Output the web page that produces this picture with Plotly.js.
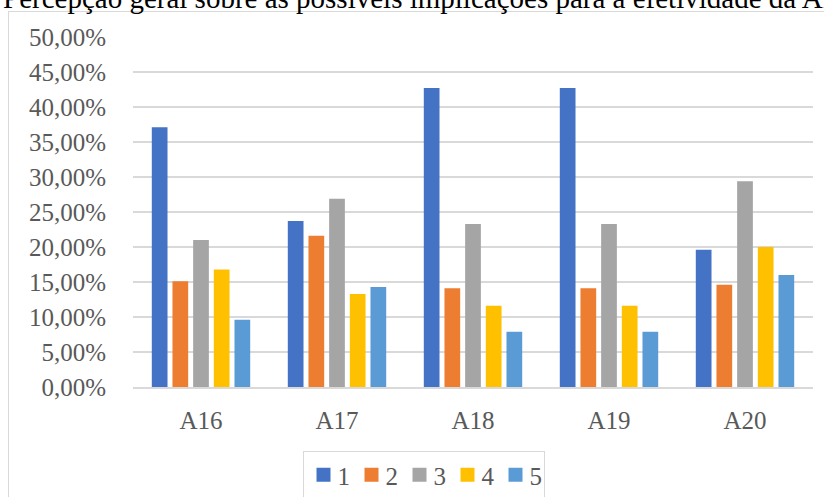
<!DOCTYPE html>
<html>
<head>
<meta charset="utf-8">
<script src="https://cdn.plot.ly/plotly-3.0.1.min.js"></script>
<style>
  html, body { margin: 0; padding: 0; background: #ffffff; overflow: hidden; }
  #frame { position: absolute; left: 8px; top: 11px; width: 900px; height: 600px;
           border: 1px solid #d9d9d9; box-sizing: border-box; }
  #chart { position: absolute; left: 0; top: 0; width: 824px; height: 497px; }
</style>
</head>
<body>
<div id="frame"></div>
<div id="chart"></div>
<script>
// Categories and answer levels
const categories = ["A16", "A17", "A18", "A19", "A20"];
const levels = ["1", "2", "3", "4", "5"];

// Share of answers per level, for each category
const level1 = [0.3710, 0.2370, 0.4270, 0.4270, 0.1960];
const level2 = [0.1510, 0.2160, 0.1410, 0.1410, 0.1460];
const level3 = [0.2100, 0.2690, 0.2330, 0.2330, 0.2940];
const level4 = [0.1680, 0.1330, 0.1160, 0.1160, 0.2000];
const level5 = [0.0960, 0.1430, 0.0790, 0.0790, 0.1600];

const colors = ["#4472C4", "#ED7D31", "#A5A5A5", "#FFC000", "#5B9BD5"];
const series = [level1, level2, level3, level4, level5];

const serif = '"Liberation Serif", "Times New Roman", serif';

const traces = series.map((vals, i) => ({
  type: "bar",
  name: levels[i],
  x: categories,
  y: vals,
  marker: { color: colors[i] },
  hoverinfo: "x+y+name"
}));

const W = 824, H = 497;
const m = { l: 133, r: 11, t: 37, b: 110, autoexpand: false };
const pw = W - m.l - m.r, ph = H - m.t - m.b;

const layout = {
  width: W, height: H,
  margin: m,
  paper_bgcolor: "rgba(0,0,0,0)",
  plot_bgcolor: "rgba(0,0,0,0)",
  separators: ",.",
  barmode: "group",
  bargap: 0.24,
  bargroupgap: 0.24,
  font: { family: serif, color: "#595959", size: 25 },
  xaxis: {
    type: "category",
    showgrid: false,
    showline: true,
    linecolor: "#d9d9d9",
    linewidth: 1.5,
    ticks: "",
    ticklabelstandoff: 10,
    tickfont: { family: serif, size: 25, color: "#595959" },
    automargin: false,
    fixedrange: true
  },
  yaxis: {
    range: [0, 0.5],
    dtick: 0.05,
    tickformat: ".2%",
    showgrid: true,
    gridcolor: "#d9d9d9",
    gridwidth: 1.5,
    zeroline: false,
    ticks: "",
    ticklabelstandoff: 26,
    tickfont: { family: serif, size: 25, color: "#595959" },
    automargin: false,
    fixedrange: true
  },
  showlegend: true,
  legend: {
    orientation: "h",
    x: (423.5 - m.l) / pw,
    xanchor: "center",
    y: (m.t + ph - 451) / ph,
    yanchor: "top",
    bordercolor: "#d9d9d9",
    borderwidth: 1,
    font: { family: serif, size: 25, color: "#595959" },
    itemwidth: 30,
    entrywidth: 3,
    entrywidthmode: "pixels",
    tracegroupgap: 0
  },
  annotations: [{
    text: "Percepção geral sobre as possíveis implicações para a efetividade da AIA",
    xref: "paper", yref: "paper",
    x: (1 - m.l) / pw, xanchor: "left",
    y: (m.t + ph + 20) / ph, yanchor: "top",
    showarrow: false,
    font: { family: serif, size: 29, color: "#000000" }
  }]
};

Plotly.newPlot("chart", traces, layout, { displayModeBar: false, staticPlot: true })
  .then(gd => {
    // compact legend entries: larger swatches, label closer to swatch
    gd.querySelectorAll(".legend .traces").forEach(t => {
      const txt = t.querySelector(".legendtext");
      if (txt) txt.setAttribute("x", 34);
      t.querySelectorAll(".legendpoints path").forEach(p => p.setAttribute("d", "M7,7H-7V-7H7Z"));
    });
    const sb = gd.querySelector(".legend .scrollbox");
    if (sb) sb.removeAttribute("clip-path");
  });
</script>
</body>
</html>
